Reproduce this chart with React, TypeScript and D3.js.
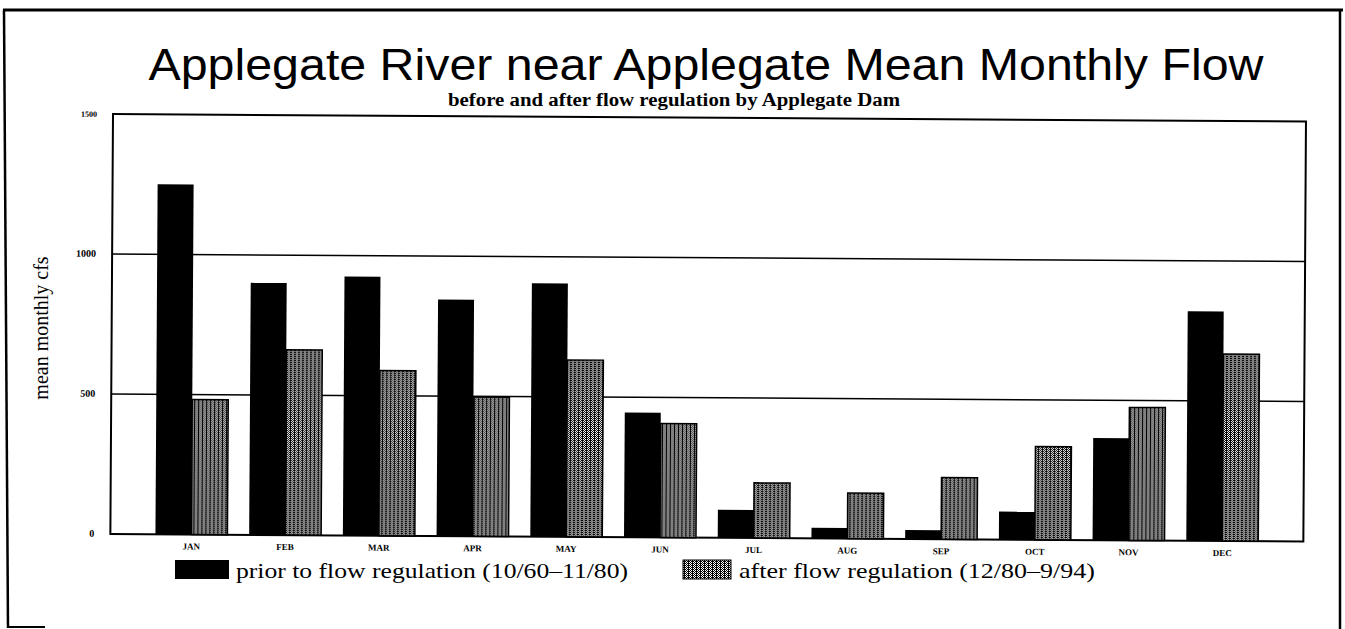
import React from "react";
import * as d3 from "d3";

const months = ["JAN","FEB","MAR","APR","MAY","JUN","JUL","AUG","SEP","OCT","NOV","DEC"];
const priorFlow = [1250, 900, 925, 845, 905, 445, 100, 38, 32, 100, 365, 820];
const afterFlow = [482, 662, 590, 497, 632, 407, 197, 163, 220, 333, 475, 668];
const yTicks = [0, 500, 1000, 1500];
const seriesKeys = ["prior", "after"];
const legendLabels = ["prior to flow regulation (10/60\u201311/80)", "after flow regulation (12/80\u20139/94)"];

const W = 1345, H = 629;
const L = 113, R = 1306, T = 114, B = 534;

export default function App() {
  const x = d3.scaleBand<string>().domain(months).range([L, R]).paddingInner(0.232).paddingOuter(0.481);
  const xs = d3.scaleBand<string>().domain(seriesKeys).range([0, x.bandwidth()]).padding(0);
  const y = d3.scaleLinear().domain([0, 1500]).range([B, T]);
  const serif = "'Liberation Serif', 'DejaVu Serif', serif";
  const sans = "'Liberation Sans', Arial, sans-serif";
  const data = months.map((m, i) => ({ m, prior: priorFlow[i], after: afterFlow[i] }));

  return (
    <svg width={W} height={H} style={{ position: "absolute", left: 0, top: 0, background: "#fff" }}>
      <defs>
        <pattern id="dither" width="4" height="4" patternUnits="userSpaceOnUse">
          <rect width="4" height="4" fill="#fff" />
          <rect x="0" y="0" width="1" height="1" fill="#000" />
          <rect x="2" y="0" width="1" height="1" fill="#000" />
          <rect x="1" y="1" width="1" height="1" fill="#000" />
          <rect x="3" y="1" width="1" height="1" fill="#000" />
          <rect x="0" y="2" width="1" height="1" fill="#000" />
          <rect x="2" y="2" width="1" height="1" fill="#000" />
          <rect x="1" y="3" width="1" height="1" fill="#000" />
          <rect x="3" y="3" width="1" height="1" fill="#000" />
          <rect x="0" y="0" width="1" height="4" fill="#000" />
        </pattern>
      </defs>
      <rect width={W} height={H} fill="#fff" />
      {/* outer frame */}
      <line x1={3} y1={10} x2={1343} y2={10} stroke="#000" strokeWidth={3} />
      <line x1={4} y1={10} x2={8} y2={628} stroke="#000" strokeWidth={2.5} />
      <line x1={1340} y1={10} x2={1340} y2={629} stroke="#000" strokeWidth={2.5} />
      <line x1={8} y1={627} x2={45} y2={627} stroke="#000" strokeWidth={2} />

      <text x={706} y={80} textAnchor="middle" fontFamily={sans} fontSize={44} textLength={1115} lengthAdjust="spacingAndGlyphs">
        Applegate River near Applegate Mean Monthly Flow
      </text>
      <text x={674} y={106} textAnchor="middle" fontFamily={serif} fontWeight="bold" fontSize={18} textLength={452} lengthAdjust="spacingAndGlyphs">
        before and after flow regulation by Applegate Dam
      </text>
      <text transform={`translate(48,${328}) rotate(-90)`} textAnchor="middle" fontFamily={serif} fontSize={20}>
        mean monthly cfs
      </text>

      <g transform={`rotate(0.36, ${L}, ${T})`}>
        {yTicks.map((t) => (
          <text key={t} x={97} y={y(t) + 3} textAnchor="end" fontFamily={serif} fontWeight="bold" fontSize={t === 1500 ? 8 : 10}>
            {t}
          </text>
        ))}
        {yTicks.filter((t) => t > 0 && t < 1500).map((t) => (
          <line key={t} x1={L} x2={R} y1={y(t)} y2={y(t)} stroke="#000" strokeWidth={1.5} />
        ))}
        <rect x={L} y={T} width={R - L} height={B - T} fill="none" stroke="#000" strokeWidth={2} />
        {data.map((d) => (
          <g key={d.m}>
            <rect x={(x(d.m) as number) + (xs("prior") as number)} y={y(d.prior)} width={xs.bandwidth()} height={B - y(d.prior)} fill="#000" />
            <rect x={(x(d.m) as number) + (xs("after") as number)} y={y(d.after)} width={xs.bandwidth()} height={B - y(d.after)} fill="url(#dither)" stroke="#000" strokeWidth={1.5} />
            <text x={(x(d.m) as number) + x.bandwidth() / 2} y={B + 15} textAnchor="middle" fontFamily={serif} fontWeight="bold" fontSize={9}>
              {d.m}
            </text>
          </g>
        ))}
      </g>

      {/* legend */}
      <rect x={175} y={560} width={54} height={19} fill="#000" />
      <text x={236} y={578} fontFamily={serif} fontSize={22} textLength={392} lengthAdjust="spacingAndGlyphs">{legendLabels[0]}</text>
      <rect x={683} y={560} width={48} height={19} fill="url(#dither)" stroke="#000" strokeWidth={1} />
      <text x={739} y={578} fontFamily={serif} fontSize={22} textLength={356} lengthAdjust="spacingAndGlyphs">{legendLabels[1]}</text>
    </svg>
  );
}
